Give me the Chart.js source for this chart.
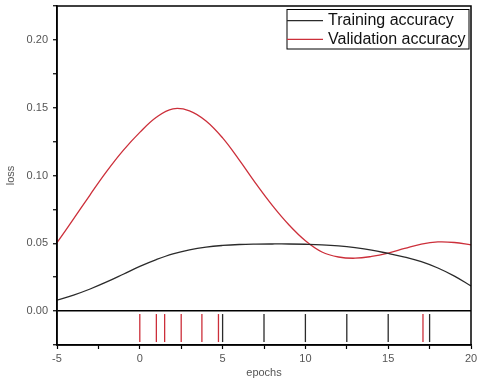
<!DOCTYPE html>
<html>
<head>
<meta charset="utf-8">
<script src="https://cdn.jsdelivr.net/npm/chart.js@4.4.1/dist/chart.umd.min.js"></script>
<style>
  html, body { margin: 0; padding: 0; background: #fff; }
  #wrap { width: 477px; height: 390px; }
</style>
</head>
<body>
<div id="wrap"><canvas id="myChart" width="477" height="390"></canvas></div>
<script>
// epochs on the x axis
const epochs = [-5, -4, -3, -2, -1, 0, 1, 2, 3, 4, 5, 6, 7, 8, 9, 10, 11, 12, 13, 14, 15, 16, 17, 18, 19, 20];

// curves
const trainingCurve = [0.0081, 0.0118, 0.0163, 0.0215, 0.0272, 0.0330, 0.0380, 0.0422, 0.0452, 0.0472, 0.0484, 0.0491, 0.0494,
    0.0495, 0.0495, 0.0493, 0.0489, 0.0481, 0.0468, 0.0450, 0.0425, 0.0398, 0.0365, 0.0318, 0.0258, 0.0185];
const validationCurve = [0.0505, 0.0680, 0.0858, 0.1030, 0.1185, 0.1318, 0.1430, 0.1492, 0.1477, 0.1402, 0.1277, 0.1115, 0.0942,
    0.0780, 0.0637, 0.0519, 0.0436, 0.0399, 0.0390, 0.0403, 0.0428, 0.0462, 0.0494, 0.0510, 0.0506, 0.0488];

// rug marks under the zero line
const trainingRug = [5, 7.5, 10, 12.5, 15, 17.5];
const validationRug = [0, 1, 1.5, 2.5, 3.75, 4.75, 17.1];
const rugLevel = -0.0125;

const seriesNames = ['Training accuracy', 'Validation accuracy'];
const blackLine = '#2b2b2b';
const redLine = '#cc2f3a';
const tickGrey = '#555555';

const toPoints = (xs, ys) => xs.map((x, i) => ({ x: x, y: ys[i] }));
const toRug = (xs) => xs.map(x => ({ x: x, y: rugLevel }));

// frame around the plot area
const framePlugin = {
    id: 'frame',
    afterDraw(chart) {
        const { ctx, chartArea: a } = chart;
        ctx.save();
        ctx.strokeStyle = '#000';
        ctx.lineWidth = 1.5;
        ctx.strokeRect(a.left, a.top, a.right - a.left, a.bottom - a.top);
        ctx.restore();
    }
};

// boxed legend in the top right corner
const boxLegend = {
    id: 'boxLegend',
    afterDraw(chart) {
        const ctx = chart.ctx;
        const left = 287, top = 9.5, right = 469, bottom = 49;
        ctx.save();
        ctx.fillStyle = '#fff';
        ctx.fillRect(left, top, right - left, bottom - top);
        ctx.strokeStyle = '#000';
        ctx.lineWidth = 1;
        ctx.strokeRect(left, top, right - left, bottom - top);
        const colors = [blackLine, redLine];
        const rows = [20.7, 39.3];
        ctx.font = '16px "Liberation Sans", Arial, sans-serif';
        ctx.textBaseline = 'middle';
        rows.forEach((y, i) => {
            ctx.strokeStyle = colors[i];
            ctx.lineWidth = 1.2;
            ctx.beginPath();
            ctx.moveTo(left, y);
            ctx.lineTo(323, y);
            ctx.stroke();
            ctx.fillStyle = '#111';
            ctx.fillText(seriesNames[i], 328, y);
        });
        ctx.restore();
    }
};

const config = {
    type: 'line',
    data: {
        datasets: [
            {
                label: seriesNames[0],
                data: toPoints(epochs, trainingCurve),
                borderColor: blackLine,
                borderWidth: 1.3,
                pointRadius: 0,
                tension: 0.4,
            },
            {
                label: seriesNames[1],
                data: toPoints(epochs, validationCurve),
                borderColor: redLine,
                borderWidth: 1.3,
                pointRadius: 0,
                tension: 0.4,
            },
            {
                label: 'train rug',
                data: toRug(trainingRug),
                showLine: false,
                pointStyle: 'line',
                rotation: 90,
                pointRadius: 14,
                borderColor: blackLine,
                pointBorderWidth: 1.3,
            },
            {
                label: 'val rug',
                data: toRug(validationRug),
                showLine: false,
                pointStyle: 'line',
                rotation: 90,
                pointRadius: 14,
                borderColor: redLine,
                pointBorderWidth: 1.3,
            },
        ],
    },
    options: {
        responsive: false,
        animation: false,
        events: [],
        layout: { autoPadding: false, padding: { top: 6, right: 6, left: 0, bottom: 0 } },
        plugins: {
            legend: { display: false },
            tooltip: { enabled: false },
        },
        scales: {
            x: {
                type: 'linear',
                min: -5,
                max: 20,
                ticks: {
                    stepSize: 2.5,
                    color: tickGrey,
                    font: { size: 11, family: 'Liberation Sans, Arial, sans-serif' },
                    padding: 3,
                    maxRotation: 0,
                    autoSkip: false,
                    callback: (v) => (Math.abs(v % 5) < 1e-9 ? String(v) : ''),
                },
                grid: { drawOnChartArea: false, tickLength: 4, tickColor: '#000', tickWidth: 1.2 },
                border: { color: '#000', width: 1.5 },
                title: {
                    display: true,
                    text: 'epochs',
                    color: tickGrey,
                    font: { size: 11, family: 'Liberation Sans, Arial, sans-serif' },
                    padding: { top: 4, bottom: 10 },
                },
                afterFit: (scale) => {
                    scale.height = 45;
                    scale.paddingLeft = 0;
                    scale.paddingRight = 0;
                },
            },
            y: {
                min: -0.025,
                max: 0.225,
                ticks: {
                    stepSize: 0.025,
                    color: tickGrey,
                    font: { size: 11, family: 'Liberation Sans, Arial, sans-serif' },
                    padding: 5,
                    autoSkip: false,
                    callback: (v) => {
                        const r = Math.round(v * 1000);
                        if (r < 0 || r > 200 || r % 50 !== 0) return '';
                        return (r / 1000).toFixed(2);
                    },
                },
                grid: {
                    drawOnChartArea: true,
                    color: (c) => (c.tick && Math.abs(c.tick.value) < 1e-9 ? '#000' : 'rgba(0,0,0,0)'),
                    lineWidth: 1.5,
                    tickLength: 4,
                    tickColor: '#000',
                    tickWidth: 1.2,
                },
                border: { color: '#000', width: 1.5 },
                title: {
                    display: true,
                    text: 'loss',
                    color: tickGrey,
                    font: { size: 11, family: 'Liberation Sans, Arial, sans-serif' },
                    padding: { top: 4, bottom: 2.5 },
                },
                afterFit: (scale) => {
                    scale.width = 57;
                    scale.paddingTop = 0;
                    scale.paddingBottom = 0;
                },
            },
        },
    },
    plugins: [framePlugin, boxLegend],
};

new Chart(document.getElementById('myChart'), config);
</script>
</body>
</html>
